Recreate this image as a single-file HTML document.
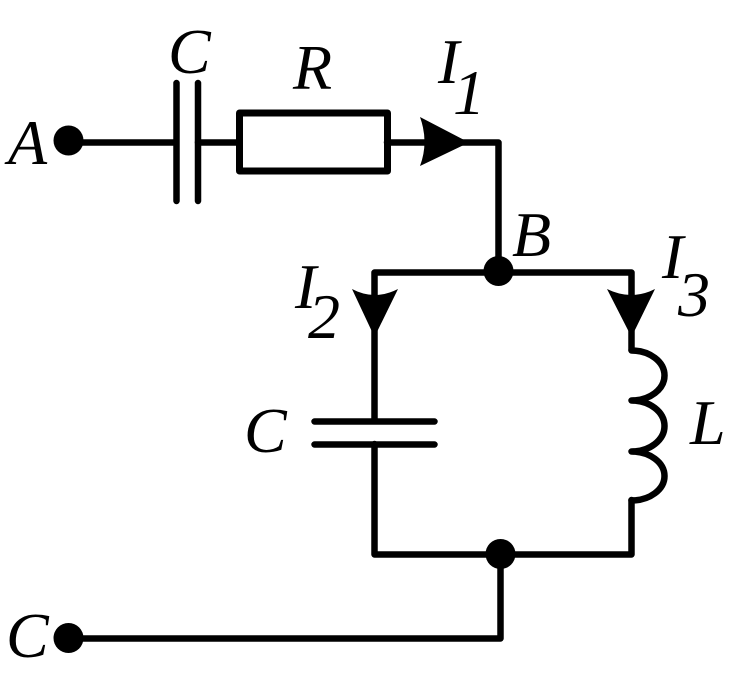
<!DOCTYPE html>
<html><head><meta charset="utf-8"><style>
html,body{margin:0;padding:0;background:#fff}
svg{display:block}
text{font-family:"Liberation Serif",serif;font-style:italic;font-size:64px;fill:#000}
</style></head><body>
<svg width="733" height="682" viewBox="0 0 733 682" xmlns="http://www.w3.org/2000/svg">
<g fill="none" stroke="#000" stroke-width="6.500" stroke-linecap="round" stroke-linejoin="round">
<path d="M68 142.500H176M198 142.500H239"/>
<path d="M176.500 83V201M198 83V201"/>
<rect x="239.500" y="113" width="148" height="58" stroke-width="7"/>
<path d="M387 142.500H498.500V271"/>
<path d="M374.500 421V272.500H631.500V350"/>
<path d="M314.500 421.500H434.500M314.500 444.500H434.500"/>
<path d="M374.500 444V554.500H631.500V500"/>
<path d="M500.500 554V638.500H68"/>
<path d="M631.500 350.500A33 25 0 0 1 631.500 400.500A33 25.500 0 0 1 631.500 451.500A33 24.500 0 0 1 631.500 500.500"/>
</g>
<g fill="#000">
<circle cx="68.500" cy="140.500" r="15"/>
<circle cx="498.500" cy="271" r="15"/>
<circle cx="500.500" cy="554" r="15"/>
<circle cx="68.500" cy="638" r="15"/>
<path d="M469 142.500L420 117Q429 142 420 166Z"/>
<path d="M374.500 337L352 289Q374.500 301 398 289Z"/>
<path d="M631.500 337L607 289Q631.500 301 655 289Z"/>
</g>
<text x="168" y="73">C</text>
<text x="8" y="164">A</text>
<text x="293" y="89">R</text>
<text x="438" y="83">I</text>
<text x="453" y="114">1</text>
<text x="512" y="256">B</text>
<text x="295" y="308">I</text>
<text x="308" y="338">2</text>
<text x="662" y="278">I</text>
<text x="678" y="316">3</text>
<text x="690" y="444">L</text>
<text x="244" y="452">C</text>
<text x="6" y="657">C</text>
</svg>
</body></html>
